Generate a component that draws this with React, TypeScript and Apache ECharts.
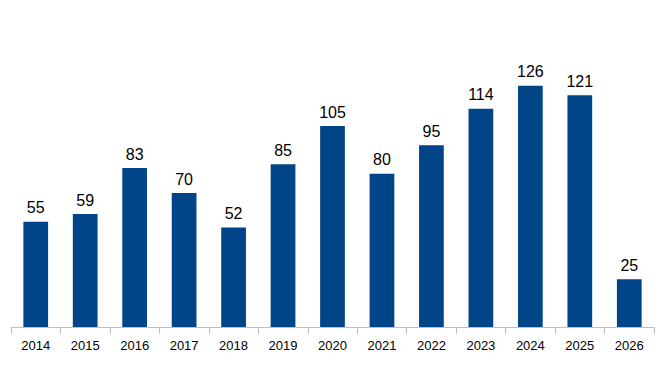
import React, { useEffect, useRef } from "react";
import * as echarts from "echarts";

const categories = ["2014", "2015", "2016", "2017", "2018", "2019", "2020", "2021", "2022", "2023", "2024", "2025", "2026"];
const values = [55, 59, 83, 70, 52, 85, 105, 80, 95, 114, 126, 121, 25];

export default function App() {
  const ref = useRef<HTMLDivElement>(null);
  useEffect(() => {
    const chart = echarts.init(ref.current!, null, { renderer: "svg" });
    chart.setOption({
      animation: false,
      grid: { left: 11, right: 17, top: 59, bottom: 40, containLabel: false },
      xAxis: {
        type: "category",
        data: categories,
        axisLine: { lineStyle: { color: "#bfbfbf", width: 1 } },
        axisTick: { show: true, length: 7, lineStyle: { color: "#bfbfbf" } },
        axisLabel: { color: "#000", fontSize: 13, fontFamily: "Liberation Sans, Arial, sans-serif", margin: 12 },
      },
      yAxis: {
        type: "value",
        min: 0,
        max: 140,
        show: false,
        splitLine: { show: false },
      },
      series: [
        {
          type: "bar",
          data: values,
          barWidth: "50%",
          itemStyle: { color: "#004587" },
          label: {
            show: true,
            position: "top",
            distance: 6,
            color: "#000",
            fontSize: 16,
            fontFamily: "Liberation Sans, Arial, sans-serif",
          },
        },
      ],
    });
    return () => chart.dispose();
  }, []);
  return <div ref={ref} style={{ width: 671, height: 367, position: "absolute", left: 0, top: 0 }} />;
}
